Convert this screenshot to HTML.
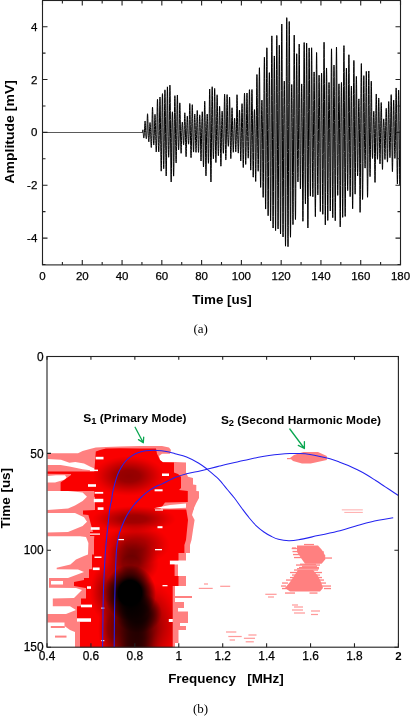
<!DOCTYPE html>
<html><head><meta charset="utf-8"><style>
html,body{margin:0;padding:0;background:#fff;}
body{width:410px;height:716px;overflow:hidden;}
svg{display:block;will-change:transform;}
.tl{font-family:"Liberation Sans",sans-serif;font-size:11.5px;fill:#000;stroke:#000;stroke-width:0.25px;}
.tl2{font-size:11.9px;}
.tlb{font-family:"Liberation Sans",sans-serif;font-size:11.5px;font-weight:bold;fill:#000;}
.ttl{font-family:"Liberation Sans",sans-serif;font-size:13.4px;font-weight:bold;fill:#000;}
.ann{font-family:"Liberation Sans",sans-serif;font-size:10.6px;font-weight:bold;fill:#000;}
.cap{font-family:"Liberation Serif",serif;font-size:13px;fill:#000;}
</style></head><body>
<svg width="410" height="716" viewBox="0 0 410 716">
<path d="M42.50,132.5 H142.24" stroke="#5a5a5a" stroke-width="1" fill="none"/>
<path d="M141.94,132.40 142.02,132.40 142.10,132.40 142.18,132.40 142.26,132.40 142.34,132.40 142.42,132.40 142.50,132.39 142.58,131.61 142.66,130.88 142.74,130.28 142.82,129.90 142.90,129.80 142.98,130.04 143.06,130.65 143.14,131.62 143.22,132.70 143.30,133.62 143.38,134.66 143.46,135.76 143.54,136.72 143.62,137.37 143.69,137.82 143.77,138.06 143.85,138.06 143.93,137.84 144.01,137.40 144.09,136.75 144.17,135.92 144.25,134.94 144.33,133.85 144.41,132.69 144.49,130.87 144.57,128.84 144.65,126.88 144.73,125.08 144.81,123.53 144.89,122.29 144.97,121.43 145.05,121.00 145.13,121.02 145.21,121.52 145.29,122.48 145.37,123.89 145.44,125.68 145.52,127.81 145.60,130.19 145.68,132.56 145.76,133.80 145.84,135.00 145.92,136.10 146.00,137.06 146.08,137.83 146.16,138.40 146.24,138.72 146.32,138.79 146.40,138.61 146.48,138.17 146.56,137.49 146.64,136.60 146.72,135.54 146.80,134.34 146.88,133.06 146.96,130.60 147.04,127.04 147.12,123.66 147.20,120.59 147.27,117.97 147.35,115.91 147.43,114.49 147.51,113.78 147.59,113.82 147.67,114.61 147.75,116.14 147.83,118.34 147.91,121.13 147.99,124.42 148.07,128.06 148.15,131.91 148.23,133.88 148.31,135.56 148.39,137.17 148.47,138.63 148.55,139.89 148.63,140.88 148.71,141.55 148.79,141.86 148.87,141.79 148.95,141.33 149.02,140.49 149.10,139.28 149.18,137.76 149.26,135.97 149.34,133.98 149.42,131.92 149.50,130.01 149.58,128.18 149.66,126.51 149.74,125.05 149.82,123.88 149.90,123.05 149.98,122.58 150.06,122.51 150.14,122.84 150.22,123.56 150.30,124.65 150.38,126.05 150.46,127.73 150.54,129.62 150.62,131.63 150.70,134.15 150.78,136.94 150.85,139.61 150.93,142.04 151.01,144.12 151.09,145.78 151.17,146.92 151.25,147.49 151.33,147.46 151.41,146.81 151.49,145.56 151.57,143.74 151.65,141.42 151.73,138.69 151.81,135.64 151.89,132.40 151.97,127.54 152.05,122.82 152.13,118.44 152.21,114.58 152.29,111.40 152.37,109.03 152.45,107.59 152.53,107.15 152.60,107.72 152.68,109.29 152.76,111.83 152.84,115.22 152.92,119.34 153.00,124.03 153.08,129.12 153.16,133.33 153.24,135.78 153.32,138.11 153.40,140.22 153.48,142.03 153.56,143.46 153.64,144.46 153.72,144.97 153.80,144.98 153.88,144.48 153.96,143.49 154.04,142.04 154.12,140.19 154.20,138.02 154.28,135.61 154.36,133.05 154.43,129.77 154.51,126.33 154.59,123.10 154.67,120.23 154.75,117.82 154.83,115.97 154.91,114.78 154.99,114.29 155.07,114.53 155.15,115.50 155.23,117.16 155.31,119.45 155.39,122.28 155.47,125.55 155.55,129.13 155.63,132.88 155.71,136.72 155.79,140.41 155.87,143.79 155.95,146.74 156.03,149.12 156.11,150.84 156.18,151.83 156.26,152.03 156.34,151.44 156.42,150.08 156.50,148.00 156.58,145.28 156.66,142.01 156.74,138.35 156.82,134.41 156.90,129.13 156.98,122.70 157.06,116.62 157.14,111.16 157.22,106.53 157.30,102.92 157.38,100.49 157.46,99.34 157.54,99.52 157.62,101.03 157.70,103.81 157.78,107.75 157.86,112.71 157.94,118.49 158.01,124.86 158.09,131.55 158.17,135.51 158.25,139.04 158.33,142.40 158.41,145.43 158.49,148.02 158.57,150.03 158.65,151.37 158.73,151.96 158.81,151.77 158.89,150.77 158.97,149.00 159.05,146.49 159.13,143.34 159.21,139.67 159.29,135.61 159.37,130.65 159.45,123.71 159.53,117.08 159.61,111.06 159.69,105.86 159.76,101.72 159.84,98.80 159.92,97.22 160.00,97.06 160.08,98.32 160.16,100.97 160.24,104.89 160.32,109.95 160.40,115.93 160.48,122.60 160.56,129.69 160.64,137.03 160.72,144.37 160.80,151.37 160.88,157.74 160.96,163.19 161.04,167.36 161.12,170.01 161.20,171.16 161.28,170.75 161.36,168.78 161.44,165.34 161.52,160.56 161.59,154.62 161.67,147.76 161.75,140.25 161.83,132.40 161.91,124.85 161.99,117.54 162.07,110.79 162.15,104.87 162.23,100.01 162.31,96.44 162.39,94.29 162.47,93.67 162.55,94.62 162.63,97.10 162.71,101.02 162.79,106.24 162.87,112.55 162.95,119.71 163.03,127.43 163.11,135.11 163.19,142.24 163.27,148.99 163.34,155.10 163.42,160.32 163.50,164.43 163.58,167.26 163.66,168.70 163.74,168.67 163.82,167.18 163.90,164.28 163.98,160.09 164.06,154.76 164.14,148.50 164.22,141.58 164.30,134.26 164.38,126.11 164.46,117.93 164.54,110.30 164.62,103.53 164.70,97.89 164.78,93.62 164.86,90.89 164.94,89.83 165.02,90.49 165.10,92.84 165.17,96.79 165.25,102.21 165.33,108.87 165.41,116.51 165.49,124.83 165.57,133.48 165.65,142.06 165.73,150.28 165.81,157.82 165.89,164.35 165.97,169.62 166.05,173.41 166.13,175.56 166.21,175.97 166.29,174.63 166.37,171.57 166.45,166.92 166.53,160.86 166.61,153.63 166.69,145.52 166.77,136.84 166.85,127.89 166.92,119.02 167.00,110.65 167.08,103.12 167.16,96.74 167.24,91.77 167.32,88.42 167.40,86.84 167.48,87.08 167.56,89.16 167.64,93.00 167.72,98.44 167.80,105.27 167.88,113.24 167.96,122.01 168.04,131.23 168.12,136.70 168.20,141.46 168.28,145.87 168.36,149.75 168.44,152.95 168.52,155.33 168.60,156.79 168.68,157.27 168.75,156.75 168.83,155.25 168.91,152.81 168.99,149.55 169.07,145.58 169.15,141.06 169.23,136.18 169.31,130.03 169.39,120.68 169.47,111.77 169.55,103.69 169.63,96.75 169.71,91.23 169.79,87.36 169.87,85.31 169.95,85.14 170.03,86.89 170.11,90.47 170.19,95.75 170.27,102.52 170.35,110.50 170.43,119.38 170.50,128.80 170.58,138.50 170.66,148.06 170.74,157.05 170.82,165.09 170.90,171.86 170.98,177.07 171.06,180.51 171.14,182.02 171.22,181.53 171.30,179.06 171.38,174.69 171.46,168.58 171.54,160.97 171.62,152.17 171.70,142.52 171.78,132.40 171.86,128.13 171.94,124.08 172.02,120.40 172.10,117.24 172.18,114.72 172.26,112.94 172.33,111.95 172.41,111.80 172.49,112.47 172.57,113.94 172.65,116.14 172.73,118.96 172.81,122.29 172.89,125.99 172.97,129.91 173.05,136.02 173.13,145.35 173.21,153.93 173.29,161.44 173.37,167.59 173.45,172.18 173.53,175.05 173.61,176.13 173.69,175.44 173.77,173.04 173.85,169.07 173.93,163.74 174.01,157.30 174.08,150.05 174.16,142.29 174.24,134.37 174.32,126.64 174.40,119.26 174.48,112.50 174.56,106.61 174.64,101.84 174.72,98.35 174.80,96.26 174.88,95.66 174.96,96.53 175.04,98.71 175.12,102.12 175.20,106.76 175.28,112.44 175.36,118.94 175.44,125.99 175.52,133.21 175.60,139.58 175.68,145.57 175.76,150.96 175.84,155.53 175.91,159.11 175.99,161.57 176.07,162.83 176.15,162.85 176.23,161.65 176.31,159.29 176.39,155.89 176.47,151.59 176.55,146.58 176.63,141.08 176.71,135.31 176.79,128.66 176.87,121.33 176.95,114.43 177.03,108.23 177.11,103.01 177.19,98.95 177.27,96.24 177.35,94.98 177.43,95.23 177.51,96.97 177.59,100.15 177.66,104.64 177.74,110.25 177.82,116.77 177.90,123.93 177.98,131.45 178.06,135.66 178.14,139.19 178.22,142.40 178.30,145.14 178.38,147.34 178.46,148.89 178.54,149.76 178.62,149.91 178.70,149.36 178.78,148.14 178.86,146.31 178.94,143.96 179.02,141.19 179.10,138.11 179.18,134.87 179.26,130.78 179.34,124.48 179.42,118.64 179.49,113.48 179.57,109.19 179.65,105.93 179.73,103.81 179.81,102.89 179.89,103.17 179.97,104.61 180.05,107.13 180.13,110.61 180.21,114.87 180.29,119.73 180.37,124.97 180.45,130.38 180.53,134.98 180.61,139.02 180.69,142.81 180.77,146.20 180.85,149.05 180.93,151.25 181.01,152.69 181.09,153.32 181.17,153.11 181.24,152.06 181.32,150.22 181.40,147.64 181.48,144.43 181.56,140.72 181.64,136.66 181.72,132.40 181.80,130.27 181.88,128.24 181.96,126.39 182.04,124.80 182.12,123.54 182.20,122.63 182.28,122.13 182.36,122.04 182.44,122.38 182.52,123.11 182.60,124.20 182.68,125.62 182.76,127.30 182.84,129.16 182.92,131.14 183.00,133.33 183.07,135.78 183.15,138.11 183.23,140.21 183.31,142.02 183.39,143.44 183.47,144.42 183.55,144.92 183.63,144.92 183.71,144.41 183.79,143.42 183.87,141.97 183.95,140.13 184.03,137.97 184.11,135.58 184.19,133.04 184.27,129.35 184.35,125.43 184.43,121.84 184.51,118.70 184.59,116.14 184.67,114.26 184.75,113.13 184.82,112.78 184.90,113.23 184.98,114.44 185.06,116.15 185.14,118.52 185.22,121.50 185.30,124.98 185.38,128.84 185.46,133.00 185.54,137.78 185.62,142.36 185.70,146.56 185.78,150.21 185.86,153.15 185.94,155.27 186.02,156.48 186.10,156.72 186.18,155.98 186.26,154.28 186.34,151.69 186.42,148.31 186.50,144.27 186.58,139.74 186.65,134.88 186.73,130.84 186.81,127.76 186.89,124.81 186.97,122.12 187.05,119.80 187.13,117.96 187.21,116.68 187.29,116.02 187.37,116.01 187.45,116.68 187.53,117.99 187.61,119.91 187.69,122.37 187.77,125.28 187.85,128.51 187.93,131.96 188.01,134.43 188.09,136.69 188.17,138.78 188.25,140.62 188.33,142.14 188.40,143.27 188.48,143.96 188.56,144.20 188.64,143.95 188.72,143.24 188.80,142.09 188.88,140.54 188.96,138.66 189.04,136.52 189.12,134.20 189.20,130.93 189.28,125.12 189.36,119.63 189.44,114.66 189.52,110.42 189.60,107.08 189.68,104.76 189.76,103.56 189.84,103.53 189.92,104.66 190.00,106.90 190.08,110.16 190.16,114.31 190.23,119.17 190.31,124.55 190.39,130.24 190.47,135.70 190.55,140.80 190.63,145.51 190.71,149.64 190.79,153.04 190.87,155.58 190.95,157.16 191.03,157.73 191.11,157.28 191.19,155.83 191.27,153.46 191.35,150.27 191.43,146.40 191.51,142.00 191.59,137.27 191.67,132.40 191.75,126.80 191.83,121.45 191.91,116.55 191.98,112.30 192.06,108.87 192.14,106.40 192.22,104.98 192.30,104.67 192.38,105.48 192.46,107.36 192.54,110.25 192.62,114.03 192.70,118.53 192.78,123.57 192.86,128.96 192.94,133.96 193.02,138.00 193.10,141.77 193.18,145.12 193.26,147.92 193.34,150.06 193.42,151.46 193.50,152.09 193.58,151.91 193.66,150.96 193.74,149.27 193.81,146.93 193.89,144.03 193.97,140.71 194.05,137.10 194.13,133.34 194.21,129.56 194.29,125.91 194.37,122.55 194.45,119.61 194.53,117.20 194.61,115.43 194.69,114.35 194.77,114.00 194.85,114.40 194.93,115.52 195.01,117.30 195.09,119.68 195.17,122.55 195.25,125.79 195.33,129.27 195.41,132.88 195.49,136.72 195.56,140.42 195.64,143.84 195.72,146.83 195.80,149.27 195.88,151.06 195.96,152.10 196.04,152.36 196.12,151.81 196.20,150.46 196.28,148.37 196.36,145.61 196.44,142.29 196.52,138.53 196.60,134.48 196.68,130.11 196.76,125.66 196.84,121.51 196.92,117.84 197.00,114.78 197.08,112.50 197.16,111.04 197.24,110.46 197.32,110.76 197.39,111.93 197.47,113.90 197.55,116.59 197.63,119.89 197.71,123.63 197.79,127.69 197.87,131.88 197.95,135.79 198.03,139.56 198.11,143.07 198.19,146.19 198.27,148.78 198.35,150.72 198.43,151.95 198.51,152.39 198.59,152.03 198.67,150.86 198.75,148.94 198.83,146.34 198.91,143.14 198.99,139.48 199.07,135.50 199.14,131.46 199.22,127.80 199.30,124.37 199.38,121.32 199.46,118.76 199.54,116.78 199.62,115.46 199.70,114.84 199.78,114.94 199.86,115.73 199.94,117.18 200.02,119.21 200.10,121.74 200.18,124.66 200.26,127.84 200.34,131.15 200.42,135.75 200.50,141.07 200.58,146.14 200.66,150.75 200.74,154.70 200.82,157.82 200.90,159.96 200.97,161.01 201.05,160.92 201.13,159.66 201.21,157.27 201.29,153.81 201.37,149.41 201.45,144.25 201.53,138.50 201.61,132.40 201.69,128.74 201.77,125.09 201.85,121.62 201.93,118.46 202.01,115.78 202.09,113.69 202.17,112.31 202.25,111.71 202.33,111.96 202.41,113.06 202.49,114.99 202.57,117.71 202.65,121.12 202.72,125.10 202.80,129.51 202.88,134.86 202.96,141.39 203.04,147.65 203.12,153.39 203.20,158.36 203.28,162.34 203.36,165.17 203.44,166.71 203.52,166.88 203.60,165.64 203.68,163.03 203.76,159.14 203.84,154.11 203.92,148.12 204.00,141.41 204.08,134.23 204.16,128.07 204.24,122.35 204.32,116.91 204.40,111.98 204.48,107.77 204.55,104.48 204.63,102.26 204.71,101.22 204.79,101.44 204.87,102.93 204.95,105.66 205.03,109.58 205.11,114.54 205.19,120.29 205.27,126.60 205.35,133.48 205.43,142.03 205.51,150.23 205.59,157.75 205.67,164.27 205.75,169.54 205.83,173.34 205.91,175.50 205.99,175.92 206.07,174.59 206.15,171.55 206.23,166.92 206.30,160.87 206.38,153.64 206.46,145.53 206.54,136.84 206.62,130.62 206.70,127.11 206.78,123.78 206.86,120.76 206.94,118.17 207.02,116.14 207.10,114.74 207.18,114.04 207.26,114.08 207.34,114.86 207.42,116.36 207.50,118.53 207.58,121.29 207.66,124.53 207.74,128.12 207.82,131.92 207.90,137.73 207.98,143.64 208.06,149.12 208.13,153.95 208.21,157.92 208.29,160.89 208.37,162.71 208.45,163.32 208.53,162.68 208.61,160.82 208.69,157.80 208.77,153.74 208.85,148.81 208.93,143.19 209.01,137.11 209.09,130.24 209.17,121.69 209.25,113.55 209.33,106.15 209.41,99.77 209.49,94.70 209.57,91.13 209.65,89.21 209.73,89.03 209.81,90.60 209.88,93.87 209.96,98.69 210.04,104.90 210.12,112.23 210.20,120.40 210.28,129.08 210.36,138.54 210.44,148.15 210.52,157.16 210.60,165.20 210.68,171.96 210.76,177.14 210.84,180.54 210.92,182.01 211.00,181.48 211.08,178.97 211.16,174.56 211.24,168.44 211.32,160.84 211.40,152.06 211.48,142.45 211.56,132.40 211.64,123.37 211.71,114.68 211.79,106.68 211.87,99.69 211.95,94.00 212.03,89.84 212.11,87.38 212.19,86.74 212.27,87.94 212.35,90.93 212.43,95.61 212.51,101.78 212.59,109.21 212.67,117.60 212.75,126.61 212.83,134.57 212.91,140.18 212.99,145.36 213.07,149.90 213.15,153.63 213.23,156.43 213.31,158.20 213.39,158.90 213.46,158.52 213.54,157.10 213.62,154.72 213.70,151.51 213.78,147.61 213.86,143.20 213.94,138.46 214.02,133.61 214.10,125.70 214.18,117.06 214.26,109.08 214.34,102.07 214.42,96.30 214.50,92.01 214.58,89.36 214.66,88.46 214.74,89.32 214.82,91.92 214.90,96.13 214.98,101.78 215.06,108.64 215.14,116.43 215.22,124.82 215.29,133.17 215.37,139.23 215.45,145.00 215.53,150.26 215.61,154.79 215.69,158.40 215.77,160.96 215.85,162.37 215.93,162.57 216.01,161.55 216.09,159.36 216.17,156.09 216.25,151.88 216.33,146.89 216.41,141.32 216.49,135.41 216.57,128.36 216.65,120.55 216.73,113.35 216.81,107.05 216.89,101.89 216.97,98.04 217.04,95.65 217.12,94.77 217.20,95.42 217.28,97.54 217.36,101.02 217.44,105.68 217.52,111.32 217.60,117.69 217.68,124.52 217.76,131.53 217.84,136.53 217.92,141.08 218.00,145.27 218.08,148.93 218.16,151.92 218.24,154.11 218.32,155.43 218.40,155.82 218.48,155.26 218.56,153.79 218.64,151.46 218.72,148.36 218.80,144.63 218.87,140.42 218.95,135.89 219.03,130.95 219.11,125.31 219.19,120.10 219.27,115.52 219.35,111.74 219.43,108.88 219.51,107.04 219.59,106.27 219.67,106.58 219.75,107.90 219.83,110.18 219.91,113.27 219.99,117.05 220.07,121.09 220.15,125.62 220.23,130.51 220.31,136.22 220.39,142.32 220.47,148.21 220.55,153.63 220.62,158.33 220.70,162.10 220.78,164.76 220.86,166.16 220.94,166.20 221.02,164.85 221.10,162.13 221.18,158.11 221.26,152.92 221.34,146.74 221.42,139.81 221.50,132.40 221.58,128.37 221.66,124.44 221.74,120.77 221.82,117.52 221.90,114.81 221.98,112.78 222.06,111.52 222.14,111.09 222.22,111.52 222.30,112.81 222.38,114.91 222.45,117.76 222.53,121.24 222.61,125.24 222.69,129.58 222.77,134.06 222.85,138.39 222.93,142.41 223.01,145.97 223.09,148.94 223.17,151.20 223.25,152.67 223.33,153.31 223.41,153.10 223.49,152.06 223.57,150.25 223.65,147.76 223.73,144.68 223.81,141.16 223.89,137.35 223.97,133.39 224.05,126.91 224.13,119.73 224.20,112.96 224.28,106.90 224.36,101.79 224.44,97.87 224.52,95.29 224.60,94.20 224.68,94.63 224.76,96.61 224.84,100.07 224.92,104.88 225.00,110.87 225.08,117.91 225.16,125.52 225.24,133.14 225.32,138.97 225.40,144.44 225.48,149.31 225.56,153.42 225.64,156.61 225.72,158.77 225.80,159.83 225.88,159.77 225.96,158.61 226.03,156.43 226.11,153.32 226.19,149.44 226.27,144.96 226.35,140.06 226.43,134.96 226.51,128.58 226.59,121.09 226.67,114.07 226.75,107.80 226.83,102.53 226.91,98.48 226.99,95.79 227.07,94.58 227.15,94.90 227.23,96.73 227.31,99.99 227.39,104.55 227.47,110.22 227.55,116.78 227.63,123.95 227.71,131.45 227.78,134.80 227.86,137.46 227.94,139.93 228.02,142.11 228.10,143.90 228.18,145.24 228.26,146.07 228.34,146.34 228.42,146.06 228.50,145.22 228.58,143.86 228.66,142.03 228.74,139.81 228.82,137.27 228.90,134.53 228.98,130.50 229.06,123.06 229.14,116.13 229.22,109.98 229.30,104.85 229.38,100.91 229.46,98.30 229.54,97.11 229.61,97.36 229.69,99.01 229.77,101.97 229.85,106.09 229.93,111.18 230.01,117.02 230.09,123.36 230.17,129.93 230.25,135.64 230.33,140.72 230.41,145.49 230.49,149.74 230.57,153.32 230.65,156.07 230.73,157.87 230.81,158.65 230.89,158.37 230.97,157.04 231.05,154.72 231.13,151.48 231.21,147.46 231.29,142.81 231.36,137.72 231.44,132.40 231.52,127.01 231.60,121.96 231.68,117.46 231.76,113.68 231.84,110.74 231.92,108.75 232.00,107.76 232.08,107.79 232.16,108.80 232.24,110.73 232.32,113.48 232.40,116.90 232.48,120.85 232.56,125.15 232.64,129.61 232.72,133.97 232.80,138.06 232.88,141.88 232.96,145.26 233.04,148.09 233.12,150.25 233.19,151.67 233.27,152.29 233.35,152.11 233.43,151.14 233.51,149.43 233.59,147.07 233.67,144.14 233.75,140.79 233.83,137.14 233.91,133.35 233.99,130.44 234.07,127.85 234.15,125.37 234.23,123.12 234.31,121.19 234.39,119.67 234.47,118.63 234.55,118.13 234.63,118.21 234.71,118.87 234.79,120.11 234.87,121.87 234.94,124.12 235.02,126.76 235.10,129.69 235.18,132.92 235.26,137.00 235.34,140.83 235.42,144.26 235.50,147.17 235.58,149.43 235.66,150.98 235.74,151.75 235.82,151.74 235.90,150.95 235.98,149.43 236.06,147.26 236.14,144.52 236.22,141.35 236.30,137.87 236.38,134.23 236.46,128.84 236.54,121.76 236.62,114.98 236.70,108.78 236.77,103.44 236.85,99.17 236.93,96.18 237.01,94.72 237.09,95.27 237.17,97.30 237.25,100.71 237.33,105.34 237.41,110.99 237.49,117.42 237.57,124.35 237.65,131.50 237.73,135.78 237.81,139.58 237.89,143.17 237.97,146.39 238.05,149.11 238.13,151.20 238.21,152.56 238.29,153.12 238.37,152.85 238.45,151.74 238.52,149.82 238.60,147.15 238.68,143.82 238.76,139.96 238.84,135.73 238.92,131.20 239.00,126.50 239.08,122.11 239.16,118.22 239.24,114.96 239.32,112.45 239.40,110.79 239.48,110.03 239.56,110.18 239.64,111.21 239.72,113.07 239.80,115.68 239.88,118.91 239.96,122.61 240.04,126.64 240.12,130.83 240.20,135.79 240.28,141.15 240.35,146.23 240.43,150.84 240.51,154.76 240.59,157.84 240.67,159.92 240.75,160.92 240.83,160.77 240.91,159.47 240.99,157.04 241.07,153.58 241.15,149.20 241.23,144.07 241.31,138.40 241.39,132.40 241.47,127.13 241.55,121.94 241.63,117.05 241.71,112.66 241.79,108.98 241.87,106.16 241.95,104.36 242.03,103.66 242.10,104.13 242.18,105.77 242.26,108.54 242.34,112.35 242.42,117.07 242.50,122.52 242.58,128.50 242.66,134.94 242.74,141.65 242.82,148.07 242.90,153.94 242.98,159.01 243.06,163.05 243.14,165.91 243.22,167.43 243.30,167.56 243.38,166.25 243.46,163.56 243.54,159.57 243.62,154.43 243.70,148.33 243.78,141.52 243.86,134.25 243.93,126.86 244.01,119.58 244.09,112.68 244.17,106.46 244.25,101.20 244.33,97.11 244.41,94.38 244.49,93.16 244.57,93.52 244.65,95.48 244.73,98.97 244.81,103.88 244.89,110.04 244.97,117.21 245.05,125.15 245.13,133.26 245.21,140.05 245.29,146.41 245.37,152.09 245.45,156.90 245.53,160.63 245.61,163.17 245.68,164.43 245.76,164.38 245.84,163.05 245.92,160.52 246.00,156.90 246.08,152.38 246.16,147.13 246.24,141.40 246.32,135.41 246.40,128.46 246.48,120.73 246.56,113.46 246.64,106.95 246.72,101.45 246.80,97.19 246.88,94.35 246.96,93.03 247.04,93.30 247.12,95.15 247.20,98.50 247.28,103.22 247.36,109.13 247.44,115.98 247.51,123.51 247.59,131.40 247.67,136.73 247.75,141.57 247.83,146.09 247.91,150.10 247.99,153.45 248.07,155.98 248.15,157.58 248.23,158.18 248.31,157.74 248.39,156.26 248.47,153.81 248.55,150.45 248.63,146.32 248.71,141.59 248.79,136.43 248.87,130.25 248.95,121.74 249.03,113.65 249.11,106.32 249.19,100.04 249.26,95.07 249.34,91.60 249.42,89.77 249.50,89.67 249.58,91.28 249.66,94.55 249.74,99.34 249.82,105.47 249.90,112.68 249.98,120.69 250.06,129.17 250.14,136.97 250.22,144.17 250.30,150.96 250.38,157.07 250.46,162.24 250.54,166.24 250.62,168.92 250.70,170.14 250.78,169.85 250.86,168.03 250.94,164.75 251.02,160.13 251.09,154.34 251.17,147.61 251.25,140.20 251.33,132.40 251.41,123.83 251.49,115.61 251.57,108.06 251.65,101.50 251.73,96.18 251.81,92.32 251.89,90.07 251.97,89.53 252.05,90.72 252.13,93.58 252.21,98.01 252.29,103.83 252.37,110.79 252.45,118.63 252.53,127.02 252.61,135.64 252.69,144.20 252.77,152.39 252.84,159.87 252.92,166.33 253.00,171.48 253.08,175.11 253.16,177.05 253.24,177.20 253.32,175.53 253.40,172.10 253.48,167.01 253.56,160.45 253.64,152.69 253.72,144.01 253.80,134.76 253.88,129.12 253.96,124.83 254.04,120.79 254.12,117.17 254.20,114.12 254.28,111.78 254.36,110.24 254.44,109.58 254.52,109.84 254.60,111.02 254.67,113.08 254.75,115.96 254.83,119.53 254.91,123.68 254.99,128.23 255.07,133.63 255.15,143.38 255.23,152.70 255.31,161.21 255.39,168.57 255.47,174.49 255.55,178.71 255.63,181.08 255.71,181.48 255.79,179.91 255.87,176.41 255.95,171.14 256.03,164.30 256.11,156.17 256.19,147.07 256.27,137.36 256.35,126.79 256.42,115.71 256.50,105.19 256.58,95.65 256.66,87.51 256.74,81.09 256.82,76.69 256.90,74.49 256.98,74.63 257.06,77.18 257.14,82.00 257.22,88.90 257.30,97.60 257.38,107.78 257.46,119.03 257.54,130.90 257.62,139.11 257.70,146.53 257.78,153.42 257.86,159.49 257.94,164.49 258.02,168.21 258.10,170.50 258.18,171.27 258.25,170.47 258.33,168.12 258.41,164.33 258.49,159.23 258.57,153.02 258.65,145.96 258.73,138.32 258.81,129.22 258.89,116.62 258.97,104.58 259.05,93.57 259.13,84.07 259.21,76.45 259.29,71.05 259.37,68.10 259.45,67.72 259.53,69.96 259.61,74.74 259.69,81.88 259.77,91.11 259.85,102.07 259.93,114.33 260.00,127.40 260.08,139.21 260.16,149.86 260.24,159.86 260.32,168.78 260.40,176.27 260.48,182.02 260.56,185.78 260.64,187.41 260.72,186.82 260.80,184.03 260.88,179.15 260.96,172.36 261.04,163.93 261.12,154.20 261.20,143.54 261.28,132.40 261.36,126.02 261.44,119.88 261.52,114.21 261.60,109.25 261.68,105.21 261.76,102.25 261.83,100.50 261.91,100.02 261.99,100.86 262.07,102.96 262.15,106.27 262.23,110.65 262.31,115.92 262.39,121.87 262.47,128.28 262.55,137.07 262.63,149.43 262.71,161.27 262.79,172.11 262.87,181.48 262.95,188.99 263.03,194.29 263.11,197.16 263.19,197.42 263.27,195.05 263.35,190.11 263.43,182.75 263.51,173.24 263.58,161.96 263.66,149.33 263.74,135.84 263.82,121.39 263.90,107.09 263.98,93.76 264.06,81.85 264.14,71.86 264.22,64.24 264.30,59.32 264.38,57.31 264.46,58.33 264.54,62.35 264.62,69.25 264.70,78.75 264.78,90.51 264.86,104.06 264.94,118.87 265.02,134.26 265.10,149.09 265.18,163.38 265.26,176.55 265.34,188.05 265.41,197.40 265.49,204.20 265.57,208.16 265.65,209.08 265.73,206.90 265.81,201.69 265.89,193.62 265.97,183.01 266.05,170.24 266.13,155.84 266.21,140.35 266.29,124.11 266.37,107.77 266.45,92.30 266.53,78.34 266.61,66.46 266.69,57.16 266.77,50.84 266.85,47.77 266.93,48.10 267.01,51.88 267.09,59.39 267.16,69.78 267.24,82.63 267.32,97.42 267.40,113.52 267.48,130.29 267.56,146.81 267.64,162.77 267.72,177.55 267.80,190.56 267.88,201.27 267.96,209.23 268.04,214.12 268.12,215.73 268.20,213.98 268.28,208.93 268.36,200.77 268.44,189.83 268.52,176.53 268.60,161.41 268.68,145.07 268.76,129.47 268.84,117.83 268.92,106.70 268.99,96.53 269.07,87.75 269.15,80.71 269.23,75.72 269.31,72.98 269.39,72.63 269.47,74.70 269.55,79.11 269.63,85.70 269.71,94.23 269.79,104.36 269.87,115.69 269.95,127.77 270.03,143.34 270.11,160.46 270.19,176.53 270.27,190.88 270.35,202.92 270.43,212.17 270.51,218.24 270.59,220.86 270.67,219.92 270.74,215.45 270.82,207.60 270.90,196.69 270.98,183.13 271.06,167.47 271.14,150.33 271.22,132.40 271.30,113.52 271.38,95.28 271.46,78.43 271.54,63.66 271.62,51.58 271.70,42.69 271.78,37.37 271.86,35.87 271.94,38.25 272.02,44.46 272.10,54.26 272.18,67.28 272.26,83.01 272.34,100.83 272.42,120.04 272.50,139.48 272.57,158.14 272.65,175.87 272.73,191.95 272.81,205.71 272.89,216.59 272.97,224.12 273.05,228.00 273.13,228.03 273.21,224.19 273.29,216.63 273.37,205.61 273.45,191.58 273.53,175.07 273.61,156.75 273.69,137.33 273.77,120.87 273.85,105.97 273.93,92.15 274.01,79.96 274.09,69.90 274.17,62.36 274.25,57.65 274.32,55.96 274.40,57.34 274.48,61.75 274.56,69.00 274.64,78.79 274.72,90.73 274.80,104.34 274.88,119.07 274.96,134.88 275.04,154.50 275.12,173.23 275.20,190.31 275.28,205.04 275.36,216.84 275.44,225.23 275.52,229.88 275.60,230.60 275.68,227.37 275.76,220.31 275.84,209.71 275.92,196.01 276.00,179.75 276.08,161.59 276.15,142.26 276.23,122.61 276.31,103.45 276.39,85.48 276.47,69.41 276.55,55.89 276.63,45.47 276.71,38.56 276.79,35.44 276.87,36.22 276.95,40.88 277.03,49.22 277.11,60.89 277.19,75.44 277.27,92.27 277.35,110.69 277.43,129.97 277.51,149.40 277.59,168.12 277.67,185.37 277.75,200.45 277.83,212.78 277.90,221.84 277.98,227.28 278.06,228.90 278.14,226.63 278.22,220.57 278.30,210.97 278.38,198.23 278.46,182.86 278.54,165.48 278.62,146.81 278.70,128.09 278.78,110.99 278.86,94.67 278.94,79.79 279.02,66.97 279.10,56.72 279.18,49.48 279.26,45.55 279.34,45.11 279.42,48.20 279.50,54.70 279.58,64.38 279.66,76.85 279.73,91.63 279.81,108.12 279.89,125.68 279.97,144.88 280.05,164.45 280.13,182.85 280.21,199.31 280.29,213.16 280.37,223.83 280.45,230.87 280.53,233.97 280.61,232.98 280.69,227.91 280.77,218.96 280.85,206.46 280.93,190.89 281.01,172.87 281.09,153.11 281.17,132.40 281.25,111.10 281.33,90.56 281.41,71.62 281.48,55.04 281.56,41.51 281.64,31.59 281.72,25.69 281.80,24.08 281.88,26.83 281.96,33.86 282.04,44.91 282.12,59.53 282.20,77.17 282.28,97.13 282.36,118.59 282.44,140.21 282.52,160.75 282.60,180.21 282.68,197.82 282.76,212.84 282.84,224.67 282.92,232.82 283.00,236.95 283.08,236.86 283.16,232.56 283.24,224.21 283.31,212.11 283.39,196.76 283.47,178.76 283.55,158.82 283.63,137.75 283.71,124.75 283.79,114.83 283.87,105.59 283.95,97.42 284.03,90.64 284.11,85.53 284.19,82.30 284.27,81.08 284.35,81.93 284.43,84.82 284.51,89.63 284.59,96.18 284.67,104.21 284.75,113.38 284.83,123.35 284.91,135.24 284.99,157.78 285.06,179.35 285.14,199.06 285.22,216.13 285.30,229.86 285.38,239.69 285.46,245.21 285.54,246.19 285.62,242.58 285.70,234.52 285.78,222.33 285.86,206.48 285.94,187.61 286.02,166.48 286.10,143.93 286.18,120.78 286.26,98.05 286.34,76.75 286.42,57.73 286.50,41.75 286.58,29.45 286.66,21.32 286.74,17.67 286.82,18.65 286.89,24.21 286.97,34.11 287.05,47.95 287.13,65.16 287.21,85.05 287.29,106.80 287.37,129.53 287.45,152.59 287.53,174.81 287.61,195.26 287.69,213.14 287.77,227.71 287.85,238.42 287.93,244.83 288.01,246.70 288.09,243.96 288.17,236.74 288.25,225.34 288.33,210.24 288.41,192.04 288.49,171.48 288.57,149.41 288.64,126.76 288.72,104.51 288.80,83.44 288.88,64.37 288.96,48.08 289.04,35.22 289.12,26.30 289.20,21.66 289.28,21.49 289.36,25.79 289.44,34.37 289.52,46.87 289.60,62.80 289.68,81.49 289.76,102.20 289.84,124.08 289.92,146.02 290.00,167.11 290.08,186.59 290.16,203.70 290.24,217.79 290.32,228.30 290.40,234.86 290.47,237.24 290.55,235.38 290.63,229.42 290.71,219.62 290.79,206.42 290.87,190.39 290.95,172.20 291.03,152.60 291.11,132.40 291.19,122.67 291.27,113.38 291.35,104.89 291.43,97.55 291.51,91.64 291.59,87.40 291.67,84.99 291.75,84.49 291.83,85.92 291.91,89.22 291.99,94.23 292.07,100.76 292.15,108.53 292.22,117.22 292.30,126.49 292.38,139.47 292.46,157.96 292.54,175.35 292.62,190.96 292.70,204.16 292.78,214.42 292.86,221.35 292.94,224.67 293.02,224.27 293.10,220.18 293.18,212.57 293.26,201.76 293.34,188.21 293.42,172.45 293.50,155.15 293.58,136.99 293.66,117.54 293.74,98.38 293.82,80.69 293.90,65.16 293.98,52.41 294.05,42.94 294.13,37.11 294.21,35.14 294.29,37.09 294.37,42.87 294.45,52.21 294.53,64.70 294.61,79.83 294.69,97.03 294.77,115.61 294.85,134.63 294.93,152.24 295.01,168.99 295.09,184.20 295.17,197.28 295.25,207.69 295.33,215.04 295.41,219.03 295.49,219.53 295.57,216.52 295.65,210.14 295.73,200.65 295.80,188.46 295.88,174.06 295.96,158.04 296.04,141.04 296.12,124.41 296.20,108.79 296.28,94.15 296.36,81.10 296.44,70.15 296.52,61.74 296.60,56.19 296.68,53.72 296.76,54.43 296.84,58.27 296.92,65.08 297.00,74.58 297.08,86.39 297.16,100.01 297.24,114.89 297.32,130.44 297.40,141.04 297.48,150.59 297.56,159.40 297.63,167.13 297.71,173.47 297.79,178.16 297.87,181.00 297.95,181.89 298.03,180.78 298.11,177.72 298.19,172.84 298.27,166.32 298.35,158.43 298.43,149.49 298.51,139.85 298.59,127.89 298.67,110.12 298.75,93.30 298.83,78.10 298.91,65.13 298.99,54.90 299.07,47.83 299.15,44.17 299.23,44.08 299.31,47.54 299.38,54.40 299.46,64.38 299.54,77.07 299.62,91.95 299.70,108.41 299.78,125.79 299.86,139.47 299.94,150.50 300.02,160.81 300.10,169.98 300.18,177.64 300.26,183.48 300.34,187.27 300.42,188.85 300.50,188.16 300.58,185.21 300.66,180.14 300.74,173.14 300.82,164.49 300.90,154.55 300.98,143.71 301.06,132.40 301.14,122.75 301.21,113.48 301.29,104.96 301.37,97.54 301.45,91.51 301.53,87.13 301.61,84.57 301.69,83.93 301.77,85.25 301.85,88.47 301.93,93.46 302.01,100.03 302.09,107.91 302.17,116.78 302.25,126.30 302.33,139.05 302.41,156.54 302.49,173.11 302.57,188.08 302.65,200.85 302.73,210.90 302.81,217.82 302.89,221.30 302.96,221.21 303.04,217.54 303.12,210.42 303.20,200.13 303.28,187.07 303.36,171.77 303.44,154.83 303.52,136.94 303.60,118.95 303.68,101.53 303.76,85.33 303.84,71.01 303.92,59.16 304.00,50.24 304.08,44.62 304.16,42.54 304.24,44.08 304.32,49.18 304.40,57.64 304.48,69.12 304.56,83.17 304.64,99.21 304.72,116.61 304.79,134.18 304.87,148.30 304.95,161.82 305.03,174.20 305.11,184.92 305.19,193.55 305.27,199.75 305.35,203.24 305.43,203.88 305.51,201.65 305.59,196.61 305.67,188.96 305.75,179.01 305.83,167.16 305.91,153.86 305.99,139.66 306.07,123.37 306.15,105.69 306.23,89.12 306.31,74.32 306.39,61.88 306.47,52.30 306.54,45.96 306.62,43.11 306.70,43.86 306.78,48.18 306.86,55.87 306.94,66.64 307.02,80.03 307.10,95.51 307.18,112.45 307.26,130.17 307.34,149.27 307.42,167.84 307.50,184.94 307.58,199.87 307.66,212.06 307.74,221.01 307.82,226.37 307.90,227.94 307.98,225.66 308.06,219.63 308.14,210.11 308.22,197.48 308.30,182.27 308.37,165.08 308.45,146.63 308.53,128.11 308.61,111.19 308.69,95.14 308.77,80.63 308.85,68.22 308.93,58.42 309.01,51.61 309.09,48.07 309.17,47.93 309.25,51.18 309.33,57.71 309.41,67.23 309.49,79.35 309.57,93.59 309.65,109.37 309.73,126.05 309.81,140.47 309.89,153.03 309.97,164.73 310.05,175.10 310.12,183.72 310.20,190.26 310.28,194.45 310.36,196.13 310.44,195.24 310.52,191.83 310.60,186.04 310.68,178.10 310.76,168.34 310.84,157.16 310.92,145.02 311.00,132.40 311.08,115.36 311.16,99.04 311.24,84.10 311.32,71.13 311.40,60.66 311.48,53.09 311.56,48.73 311.64,47.74 311.72,50.17 311.80,55.90 311.88,64.70 311.95,76.21 312.03,89.95 312.11,105.38 312.19,121.86 312.27,137.32 312.35,150.19 312.43,162.31 312.51,173.19 312.59,182.41 312.67,189.58 312.75,194.44 312.83,196.79 312.91,196.54 312.99,193.71 313.07,188.42 313.15,180.89 313.23,171.43 313.31,160.42 313.39,148.32 313.47,135.61 313.55,123.25 313.63,111.44 313.70,100.49 313.78,90.85 313.86,82.90 313.94,76.96 314.02,73.26 314.10,71.95 314.18,73.08 314.26,76.59 314.34,82.35 314.42,90.10 314.50,99.54 314.58,110.29 314.66,121.90 314.74,134.54 314.82,151.50 314.90,167.65 314.98,182.35 315.06,194.99 315.14,205.09 315.22,212.24 315.30,216.15 315.38,216.69 315.46,213.83 315.53,207.70 315.61,198.56 315.69,186.78 315.77,172.84 315.85,157.30 315.93,140.80 316.01,124.37 316.09,108.66 316.17,93.94 316.25,80.80 316.33,69.70 316.41,61.01 316.49,55.19 316.57,52.46 316.65,52.94 316.73,56.64 316.81,63.41 316.89,72.97 316.97,84.97 317.05,98.91 317.13,114.25 317.21,130.36 317.28,143.44 317.36,155.58 317.44,166.76 317.52,176.53 317.60,184.50 317.68,190.36 317.76,193.86 317.84,194.89 317.92,193.39 318.00,189.45 318.08,183.22 318.16,174.96 318.24,165.01 318.32,153.77 318.40,141.70 318.48,129.55 318.56,118.26 318.64,107.50 318.72,97.72 318.80,89.32 318.88,82.62 318.96,77.92 319.04,75.40 319.11,75.18 319.19,77.26 319.27,81.57 319.35,87.95 319.43,96.14 319.51,105.81 319.59,116.59 319.67,128.03 319.75,142.27 319.83,157.63 319.91,171.94 319.99,184.62 320.07,195.39 320.15,203.70 320.23,209.17 320.31,211.57 320.39,210.78 320.47,206.82 320.55,199.83 320.63,190.08 320.71,177.95 320.79,163.91 320.86,148.52 320.94,132.40 321.02,120.68 321.10,109.40 321.18,99.02 321.26,89.96 321.34,82.58 321.42,77.20 321.50,74.02 321.58,73.20 321.66,74.76 321.74,78.65 321.82,84.72 321.90,92.73 321.98,102.36 322.06,113.23 322.14,124.90 322.22,138.48 322.30,154.50 322.38,169.71 322.46,183.48 322.54,195.27 322.62,204.57 322.69,211.00 322.77,214.28 322.85,214.28 322.93,210.97 323.01,204.47 323.09,195.02 323.17,182.99 323.25,168.87 323.33,153.20 323.41,136.61 323.49,118.81 323.57,101.19 323.65,84.84 323.73,70.47 323.81,58.61 323.89,49.74 323.97,44.21 324.05,42.25 324.13,43.92 324.21,49.14 324.29,57.71 324.37,69.27 324.44,83.35 324.52,99.38 324.60,116.72 324.68,134.69 324.76,152.85 324.84,170.28 324.92,186.25 325.00,200.13 325.08,211.33 325.16,219.40 325.24,223.99 325.32,224.90 325.40,222.08 325.48,215.37 325.56,205.32 325.64,192.36 325.72,177.00 325.80,159.88 325.88,141.68 325.96,125.88 326.04,113.13 326.12,101.17 326.20,90.49 326.27,81.51 326.35,74.61 326.43,70.04 326.51,67.98 326.59,68.53 326.67,71.65 326.75,77.20 326.83,84.97 326.91,94.63 326.99,105.80 327.07,118.02 327.15,130.79 327.23,147.91 327.31,164.99 327.39,180.73 327.47,194.50 327.55,205.74 327.63,214.02 327.71,218.99 327.79,220.46 327.87,218.39 327.95,212.86 328.02,204.11 328.10,192.48 328.18,178.45 328.26,162.59 328.34,145.55 328.42,129.86 328.50,119.86 328.58,110.37 328.66,101.80 328.74,94.46 328.82,88.67 328.90,84.65 328.98,82.56 329.06,82.48 329.14,84.41 329.22,88.27 329.30,93.90 329.38,101.06 329.46,109.48 329.54,118.80 329.62,128.65 329.70,142.32 329.78,157.78 329.85,172.19 329.93,184.97 330.01,195.62 330.09,203.70 330.17,208.89 330.25,211.00 330.33,209.94 330.41,205.76 330.49,198.63 330.57,188.85 330.65,176.82 330.73,163.02 330.81,148.01 330.89,132.40 330.97,115.74 331.05,99.74 331.13,85.04 331.21,72.24 331.29,61.86 331.37,54.32 331.45,49.91 331.53,48.83 331.60,51.11 331.68,56.67 331.76,65.29 331.84,76.62 331.92,90.21 332.00,105.50 332.08,121.89 332.16,138.89 332.24,155.89 332.32,171.91 332.40,186.32 332.48,198.53 332.56,208.05 332.64,214.51 332.72,217.70 332.80,217.62 332.88,214.10 332.96,207.27 333.04,197.39 333.12,184.87 333.20,170.18 333.28,153.93 333.36,136.76 333.43,122.31 333.51,109.25 333.59,97.11 333.67,86.38 333.75,77.50 333.83,70.83 333.91,66.63 333.99,65.08 334.07,66.25 334.15,70.08 334.23,76.42 334.31,85.03 334.39,95.55 334.47,107.57 334.55,120.59 334.63,134.60 334.71,152.05 334.79,168.76 334.87,184.05 334.95,197.30 335.03,207.98 335.11,215.64 335.18,219.96 335.26,220.76 335.34,218.00 335.42,211.77 335.50,202.33 335.58,190.03 335.66,175.37 335.74,158.93 335.82,141.38 335.90,123.84 335.98,107.07 336.06,91.30 336.14,77.18 336.22,65.27 336.30,56.07 336.38,49.92 336.46,47.09 336.54,47.69 336.62,51.71 336.70,58.99 336.78,69.23 336.86,82.03 336.94,96.87 337.01,113.16 337.09,130.24 337.17,143.31 337.25,155.38 337.33,166.56 337.41,176.39 337.49,184.48 337.57,190.48 337.65,194.16 337.73,195.36 337.81,194.02 337.89,190.19 337.97,184.02 338.05,175.75 338.13,165.71 338.21,154.29 338.29,141.95 338.37,129.96 338.45,120.32 338.53,111.15 338.61,102.83 338.69,95.70 338.76,90.04 338.84,86.08 338.92,83.98 339.00,83.83 339.08,85.64 339.16,89.34 339.24,94.78 339.32,101.74 339.40,109.94 339.48,119.05 339.56,128.72 339.64,144.39 339.72,163.06 339.80,180.43 339.88,195.80 339.96,208.58 340.04,218.24 340.12,224.42 340.20,226.87 340.28,225.52 340.36,220.43 340.44,211.81 340.52,200.03 340.59,185.56 340.67,169.02 340.75,151.05 340.83,132.40 340.91,122.45 340.99,112.90 341.07,104.12 341.15,96.48 341.23,90.27 341.31,85.76 341.39,83.12 341.47,82.47 341.55,83.83 341.63,87.15 341.71,92.29 341.79,99.06 341.87,107.18 341.95,116.32 342.03,126.12 342.11,138.91 342.19,155.94 342.27,171.96 342.34,186.33 342.42,198.48 342.50,207.93 342.58,214.30 342.66,217.36 342.74,216.99 342.82,213.22 342.90,206.21 342.98,196.26 343.06,183.78 343.14,169.27 343.22,153.34 343.30,136.62 343.38,119.21 343.46,102.19 343.54,86.45 343.62,72.60 343.70,61.20 343.78,52.70 343.86,47.43 343.94,45.60 344.02,47.27 344.10,52.36 344.17,60.65 344.25,71.80 344.33,85.35 344.41,100.75 344.49,117.38 344.57,134.55 344.65,151.54 344.73,167.70 344.81,182.37 344.89,194.98 344.97,205.02 345.05,212.10 345.13,215.95 345.21,216.43 345.29,213.52 345.37,207.36 345.45,198.25 345.53,186.54 345.61,172.67 345.69,157.21 345.77,140.77 345.85,125.85 345.92,113.05 346.00,101.07 346.08,90.38 346.16,81.43 346.24,74.56 346.32,70.03 346.40,68.03 346.48,68.63 346.56,71.79 346.64,77.37 346.72,85.16 346.80,94.81 346.88,105.95 346.96,118.11 347.04,130.80 347.12,142.65 347.20,153.95 347.28,164.35 347.36,173.45 347.44,180.88 347.52,186.34 347.60,189.62 347.68,190.59 347.75,189.22 347.83,185.56 347.91,179.77 347.99,172.08 348.07,162.82 348.15,152.34 348.23,141.08 348.31,128.43 348.39,112.76 348.47,97.94 348.55,84.56 348.63,73.15 348.71,64.17 348.79,57.96 348.87,54.77 348.95,54.71 349.03,57.76 349.11,63.78 349.19,72.55 349.27,83.71 349.35,96.79 349.43,111.28 349.50,126.58 349.58,140.51 349.66,153.16 349.74,164.94 349.82,175.39 349.90,184.09 349.98,190.69 350.06,194.93 350.14,196.65 350.22,195.78 350.30,192.35 350.38,186.53 350.46,178.53 350.54,168.69 350.62,157.41 350.70,145.15 350.78,132.40 350.86,123.05 350.94,114.11 351.02,105.92 351.10,98.82 351.18,93.09 351.26,88.96 351.33,86.58 351.41,86.06 351.49,87.40 351.57,90.55 351.65,95.37 351.73,101.67 351.81,109.19 351.89,117.63 351.97,126.64 352.05,138.22 352.13,153.46 352.21,167.83 352.29,180.74 352.37,191.67 352.45,200.20 352.53,205.99 352.61,208.79 352.69,208.52 352.77,205.28 352.85,199.12 352.93,190.26 353.01,179.06 353.08,165.97 353.16,151.51 353.24,136.26 353.32,121.49 353.40,107.40 353.48,94.35 353.56,82.87 353.64,73.42 353.72,66.36 353.80,61.98 353.88,60.44 353.96,61.81 354.04,66.01 354.12,72.87 354.20,82.11 354.28,93.34 354.36,106.12 354.44,119.92 354.52,133.95 354.60,146.23 354.68,157.97 354.76,168.69 354.84,177.96 354.91,185.40 354.99,190.71 355.07,193.67 355.15,194.17 355.23,192.18 355.31,187.78 355.39,181.14 355.47,172.53 355.55,162.29 355.63,150.84 355.71,138.63 355.79,126.75 355.87,115.69 355.95,105.31 356.03,96.03 356.11,88.21 356.19,82.18 356.27,78.18 356.35,76.36 356.43,76.81 356.51,79.49 356.59,84.30 356.66,91.04 356.74,99.45 356.82,109.18 356.90,119.83 356.98,130.99 357.06,140.00 357.14,148.39 357.22,156.14 357.30,162.94 357.38,168.52 357.46,172.65 357.54,175.16 357.62,175.95 357.70,174.99 357.78,172.30 357.86,168.01 357.94,162.27 358.02,155.33 358.10,147.46 358.18,138.97 358.26,130.70 358.34,124.01 358.42,117.66 358.49,111.90 358.57,106.98 358.65,103.08 358.73,100.36 358.81,98.94 358.89,98.86 358.97,100.14 359.05,102.71 359.13,106.48 359.21,111.29 359.29,116.95 359.37,123.23 359.45,129.87 359.53,142.42 359.61,158.08 359.69,172.71 359.77,185.74 359.85,196.63 359.93,204.93 360.01,210.31 360.09,212.37 360.17,211.20 360.24,206.87 360.32,199.56 360.40,189.58 360.48,177.34 360.56,163.34 360.64,148.16 360.72,132.40 360.80,118.61 360.88,105.39 360.96,93.26 361.04,82.72 361.12,74.18 361.20,67.99 361.28,64.40 361.36,63.56 361.44,65.48 361.52,70.10 361.60,77.23 361.68,86.57 361.76,97.78 361.84,110.36 361.92,123.80 362.00,137.55 362.07,151.03 362.15,163.71 362.23,175.07 362.31,184.67 362.39,192.12 362.47,197.14 362.55,199.54 362.63,199.23 362.71,196.23 362.79,190.67 362.87,182.80 362.95,172.93 363.03,161.48 363.11,148.91 363.19,135.73 363.27,123.80 363.35,112.69 363.43,102.41 363.51,93.35 363.59,85.89 363.67,80.31 363.75,76.85 363.82,75.63 363.90,76.70 363.98,80.01 364.06,85.41 364.14,92.70 364.22,101.56 364.30,111.65 364.38,122.55 364.46,133.32 364.54,140.56 364.62,147.44 364.70,153.68 364.78,159.04 364.86,163.30 364.94,166.30 365.02,167.93 365.10,168.12 365.18,166.87 365.26,164.24 365.34,160.34 365.42,155.34 365.50,149.44 365.58,142.88 365.65,135.93 365.73,126.21 365.81,114.10 365.89,102.76 365.97,92.64 366.05,84.14 366.13,77.61 366.21,73.29 366.29,71.37 366.37,71.91 366.45,74.88 366.53,80.16 366.61,87.53 366.69,96.68 366.77,107.25 366.85,118.81 366.93,130.88 367.01,143.95 367.09,156.63 367.17,168.28 367.25,178.43 367.33,186.68 367.40,192.71 367.48,196.28 367.56,197.27 367.64,195.65 367.72,191.49 367.80,184.97 367.88,176.38 367.96,166.06 368.04,154.43 368.12,141.98 368.20,129.27 368.28,116.93 368.36,105.24 368.44,94.67 368.52,85.65 368.60,78.53 368.68,73.60 368.76,71.05 368.84,70.98 368.92,73.37 369.00,78.14 369.08,85.21 369.16,94.12 369.23,104.50 369.31,115.90 369.39,127.87 369.47,138.05 369.55,146.83 369.63,154.98 369.71,162.18 369.79,168.15 369.87,172.65 369.95,175.51 370.03,176.62 370.11,175.95 370.19,173.53 370.27,169.47 370.35,163.94 370.43,157.17 370.51,149.45 370.59,141.07 370.67,132.40 370.75,121.80 370.83,111.73 370.91,102.59 370.98,94.73 371.06,88.46 371.14,84.01 371.22,81.55 371.30,81.16 371.38,82.82 371.46,86.46 371.54,91.91 371.62,98.92 371.70,107.21 371.78,116.43 371.86,126.20 371.94,134.41 372.02,139.67 372.10,144.61 372.18,149.03 372.26,152.76 372.34,155.65 372.42,157.58 372.50,158.50 372.58,158.36 372.66,157.17 372.74,155.00 372.81,151.93 372.89,148.10 372.97,143.65 373.05,138.78 373.13,133.69 373.21,129.08 373.29,124.82 373.37,120.92 373.45,117.52 373.53,114.76 373.61,112.74 373.69,111.53 373.77,111.17 373.85,111.66 373.93,112.99 374.01,115.07 374.09,117.83 374.17,121.14 374.25,124.86 374.33,128.84 374.41,133.69 374.49,143.87 374.56,153.53 374.64,162.29 374.72,169.80 374.80,175.76 374.88,179.95 374.96,182.20 375.04,182.44 375.12,180.67 375.20,176.97 375.28,171.50 375.36,164.48 375.44,156.22 375.52,147.04 375.60,137.33 375.68,128.44 375.76,120.73 375.84,113.54 375.92,107.15 376.00,101.82 376.08,97.75 376.16,95.10 376.24,93.97 376.32,94.39 376.39,96.33 376.47,99.71 376.55,104.38 376.63,110.15 376.71,116.76 376.79,123.97 376.87,131.46 376.95,137.20 377.03,142.47 377.11,147.31 377.19,151.51 377.27,154.92 377.35,157.41 377.43,158.87 377.51,159.27 377.59,158.58 377.67,156.84 377.75,154.13 377.83,150.57 377.91,146.29 377.99,141.49 378.07,136.35 378.14,130.62 378.22,123.63 378.30,117.03 378.38,111.11 378.46,106.08 378.54,102.15 378.62,99.46 378.70,98.11 378.78,98.16 378.86,99.57 378.94,102.30 379.02,106.21 379.10,111.15 379.18,116.90 379.26,123.23 379.34,129.88 379.42,136.45 379.50,142.74 379.58,148.57 379.66,153.71 379.74,157.97 379.82,161.16 379.90,163.18 379.97,163.95 380.05,163.45 380.13,161.70 380.21,158.79 380.29,154.84 380.37,150.01 380.45,144.51 380.53,138.56 380.61,132.40 380.69,126.21 380.77,120.32 380.85,114.98 380.93,110.40 381.01,106.75 381.09,104.16 381.17,102.74 381.25,102.52 381.33,103.50 381.41,105.63 381.49,108.81 381.57,112.91 381.65,117.74 381.72,123.11 381.80,128.79 381.88,135.27 381.96,142.76 382.04,149.79 382.12,156.06 382.20,161.35 382.28,165.43 382.36,168.16 382.44,169.43 382.52,169.21 382.60,167.50 382.68,164.40 382.76,160.04 382.84,154.60 382.92,148.30 383.00,141.42 383.08,134.21 383.16,130.28 383.24,127.56 383.32,125.07 383.40,122.91 383.48,121.15 383.55,119.87 383.63,119.11 383.71,118.88 383.79,119.21 383.87,120.05 383.95,121.39 384.03,123.14 384.11,125.25 384.19,127.61 384.27,130.14 384.35,133.10 384.43,138.65 384.51,143.91 384.59,148.66 384.67,152.72 384.75,155.94 384.83,158.18 384.91,159.37 384.99,159.47 385.07,158.48 385.15,156.45 385.23,153.47 385.30,149.67 385.38,145.21 385.46,140.26 385.54,135.05 385.62,130.16 385.70,125.70 385.78,121.41 385.86,117.48 385.94,114.07 386.02,111.34 386.10,109.42 386.18,108.39 386.26,108.32 386.34,109.24 386.42,111.12 386.50,113.92 386.58,117.52 386.66,121.81 386.74,126.61 386.82,131.74 386.90,137.62 386.98,143.32 387.06,148.54 387.13,153.06 387.21,156.76 387.29,159.65 387.37,161.47 387.45,162.13 387.53,161.59 387.61,159.86 387.69,157.00 387.77,153.12 387.85,148.37 387.93,142.93 388.01,137.01 388.09,130.94 388.17,125.11 388.25,119.49 388.33,114.29 388.41,109.75 388.49,106.06 388.57,103.38 388.65,101.84 388.73,101.52 388.81,102.46 388.88,104.63 388.96,107.96 389.04,112.34 389.12,117.60 389.20,123.54 389.28,129.94 389.36,135.48 389.44,140.33 389.52,144.89 389.60,148.99 389.68,152.44 389.76,155.11 389.84,156.89 389.92,157.69 390.00,157.47 390.08,156.23 390.16,154.02 390.24,150.92 390.32,147.04 390.40,142.54 390.48,137.59 390.56,132.40 390.64,125.01 390.71,117.88 390.79,111.29 390.87,105.51 390.95,100.79 391.03,97.32 391.11,95.24 391.19,94.65 391.27,95.59 391.35,98.02 391.43,101.85 391.51,106.94 391.59,113.10 391.67,120.06 391.75,127.57 391.83,135.23 391.91,142.73 391.99,149.90 392.07,156.45 392.15,162.11 392.23,166.63 392.31,169.82 392.39,171.52 392.46,171.66 392.54,170.21 392.62,167.20 392.70,162.75 392.78,157.01 392.86,150.20 392.94,142.59 393.02,134.47 393.10,127.62 393.18,121.41 393.26,115.61 393.34,110.46 393.42,106.16 393.50,102.90 393.58,100.81 393.66,99.99 393.74,100.48 393.82,102.26 393.90,105.26 393.98,109.38 394.06,114.45 394.14,120.28 394.22,126.62 394.29,133.03 394.37,138.04 394.45,142.87 394.53,147.33 394.61,151.24 394.69,154.42 394.77,156.74 394.85,158.09 394.93,158.42 395.01,157.70 395.09,155.94 395.17,153.22 395.25,149.62 395.33,145.28 395.41,140.38 395.49,135.11 395.57,128.00 395.65,119.34 395.73,111.18 395.81,103.83 395.89,97.61 395.97,92.76 396.04,89.49 396.12,87.94 396.20,88.18 396.28,90.21 396.36,93.95 396.44,99.25 396.52,105.93 396.60,113.70 396.68,122.25 396.76,131.26 396.84,141.38 396.92,151.30 397.00,160.47 397.08,168.52 397.16,175.12 397.24,180.00 397.32,182.98 397.40,183.92 397.48,182.78 397.56,179.61 397.64,174.53 397.72,167.75 397.80,159.54 397.87,150.22 397.95,140.17 398.03,130.30 398.11,121.98 398.19,114.05 398.27,106.83 398.35,100.61 398.43,95.64 398.51,92.14 398.59,90.26 398.67,90.06 398.75,91.57 398.83,94.74 398.91,99.45 398.99,105.50 399.07,112.66 399.15,120.65 399.23,129.15 399.31,138.95 399.39,149.18 399.47,158.75 399.55,167.26 399.62,174.38 399.70,179.82 399.78,183.35 399.86,184.83 399.94,184.20 400.02,181.48 400.10,176.77 400.18,170.28 400.26,162.25 400.34,153.00 400.42,142.92 400.50,132.40" fill="none" stroke="#000" stroke-width="1.0" stroke-linejoin="round"/>
<rect x="42.50" y="0.50" width="358.00" height="264.40" fill="none" stroke="#222" stroke-width="1.1"/>
<path d="M42.50,264.90v-5.00M42.50,0.50v5.00M62.39,264.90v-3.00M62.39,0.50v3.00M82.28,264.90v-5.00M82.28,0.50v5.00M102.17,264.90v-3.00M102.17,0.50v3.00M122.06,264.90v-5.00M122.06,0.50v5.00M141.94,264.90v-3.00M141.94,0.50v3.00M161.83,264.90v-5.00M161.83,0.50v5.00M181.72,264.90v-3.00M181.72,0.50v3.00M201.61,264.90v-5.00M201.61,0.50v5.00M221.50,264.90v-3.00M221.50,0.50v3.00M241.39,264.90v-5.00M241.39,0.50v5.00M261.28,264.90v-3.00M261.28,0.50v3.00M281.17,264.90v-5.00M281.17,0.50v5.00M301.06,264.90v-3.00M301.06,0.50v3.00M320.94,264.90v-5.00M320.94,0.50v5.00M340.83,264.90v-3.00M340.83,0.50v3.00M360.72,264.90v-5.00M360.72,0.50v5.00M380.61,264.90v-3.00M380.61,0.50v3.00M400.50,264.90v-5.00M400.50,0.50v5.00M42.50,264.50h3.00M400.50,264.50h-3.00M42.50,238.08h5.00M400.50,238.08h-5.00M42.50,211.66h3.00M400.50,211.66h-3.00M42.50,185.24h5.00M400.50,185.24h-5.00M42.50,158.82h3.00M400.50,158.82h-3.00M42.50,132.40h5.00M400.50,132.40h-5.00M42.50,105.98h3.00M400.50,105.98h-3.00M42.50,79.56h5.00M400.50,79.56h-5.00M42.50,53.14h3.00M400.50,53.14h-3.00M42.50,26.72h5.00M400.50,26.72h-5.00M42.50,0.30h3.00M400.50,0.30h-3.00" stroke="#222" stroke-width="1.1" fill="none"/>
<text x="42.50" y="280" class="tl" text-anchor="middle">0</text>
<text x="82.28" y="280" class="tl" text-anchor="middle">20</text>
<text x="122.06" y="280" class="tl" text-anchor="middle">40</text>
<text x="161.83" y="280" class="tl" text-anchor="middle">60</text>
<text x="201.61" y="280" class="tl" text-anchor="middle">80</text>
<text x="241.39" y="280" class="tl" text-anchor="middle">100</text>
<text x="281.17" y="280" class="tl" text-anchor="middle">120</text>
<text x="320.94" y="280" class="tl" text-anchor="middle">140</text>
<text x="360.72" y="280" class="tl" text-anchor="middle">160</text>
<text x="400.50" y="280" class="tl" text-anchor="middle">180</text>
<text x="37.3" y="30.72" class="tl" text-anchor="end">4</text>
<text x="37.3" y="83.56" class="tl" text-anchor="end">2</text>
<text x="37.3" y="136.40" class="tl" text-anchor="end">0</text>
<text x="37.3" y="189.24" class="tl" text-anchor="end">-2</text>
<text x="37.3" y="242.08" class="tl" text-anchor="end">-4</text>
<text x="222" y="303.7" class="ttl" text-anchor="middle">Time [us]</text>
<text transform="translate(14,183.6) rotate(-90)" class="ttl" textLength="103.5" lengthAdjust="spacingAndGlyphs" font-size="13.8">Amplitude [mV]</text>
<text x="200.7" y="333.2" class="cap" text-anchor="middle">(a)</text>
<defs><clipPath id="rc"><polygon points="95.8,451.5 100.0,450.0 106.0,448.6 120.0,448.3 140.0,448.5 156.0,448.5 157.0,453.7 160.0,460.0 163.0,462.3 174.0,462.5 174.0,472.4 178.0,474.0 181.0,476.7 181.0,488.0 179.0,490.0 187.8,491.0 187.8,503.0 186.0,508.0 188.0,520.0 186.0,540.0 184.4,545.0 184.4,553.0 178.5,553.0 178.5,560.6 169.8,560.6 169.8,564.5 174.6,564.5 174.6,576.0 178.5,576.0 178.5,586.0 172.7,586.0 172.7,647.2 80.0,647.2 80.0,622.0 77.0,622.0 77.0,606.3 81.0,606.3 81.0,598.5 86.0,598.5 86.0,588.0 84.0,587.8 74.0,586.0 74.0,582.0 84.0,580.0 84.0,578.0 89.0,578.0 89.0,569.3 92.0,569.3 92.0,554.6 94.0,554.6 94.0,540.0 94.3,536.0 90.0,536.0 90.0,532.0 93.0,532.0 88.4,515.0 83.0,514.5 83.0,510.5 95.0,510.0 95.0,497.0 94.3,496.8 94.3,491.0 60.6,491.0 60.6,482.5 71.0,475.0 71.0,474.0 47.5,473.7 47.5,471.5 94.3,471.5"/></clipPath>
<filter id="b4" x="-50%" y="-50%" width="200%" height="200%"><feGaussianBlur stdDeviation="4"/></filter>
<filter id="b6" x="-50%" y="-50%" width="200%" height="200%"><feGaussianBlur stdDeviation="6"/></filter>
<filter id="b9" x="-50%" y="-50%" width="200%" height="200%"><feGaussianBlur stdDeviation="9"/></filter>
<radialGradient id="dk"><stop offset="0" stop-color="#000" stop-opacity="1"/><stop offset="0.3" stop-color="#000" stop-opacity="0.92"/><stop offset="0.6" stop-color="#000" stop-opacity="0.5"/><stop offset="0.85" stop-color="#000" stop-opacity="0.15"/><stop offset="1" stop-color="#000" stop-opacity="0"/></radialGradient>
<radialGradient id="dk2"><stop offset="0" stop-color="#000" stop-opacity="1"/><stop offset="0.45" stop-color="#000" stop-opacity="1"/><stop offset="0.75" stop-color="#000" stop-opacity="0.5"/><stop offset="1" stop-color="#000" stop-opacity="0"/></radialGradient>
</defs>
<polygon points="47.5,453.2 78.0,453.2 82.6,451.0 89.9,448.9 95.8,447.4 106.0,447.0 120.0,446.5 140.0,446.0 162.0,446.0 169.0,447.5 171.0,450.0 170.0,453.7 162.0,453.7 159.0,456.0 160.0,460.0 162.0,462.0 175.0,462.0 186.0,462.5 186.0,472.4 188.0,476.7 193.0,478.0 193.0,484.4 196.3,485.0 196.3,491.0 199.0,491.2 199.0,498.0 196.3,503.0 194.0,508.0 192.0,515.0 194.6,520.0 193.0,530.0 191.5,540.0 190.0,545.0 190.0,553.0 186.0,553.0 186.0,560.6 170.0,560.6 170.0,564.5 178.0,564.5 178.0,576.0 186.0,576.0 186.0,586.0 175.0,586.0 175.0,596.0 192.0,596.0 192.0,598.0 175.0,598.0 175.0,602.0 184.0,602.0 184.0,608.0 178.0,608.0 178.0,611.6 188.0,611.6 188.0,623.0 180.0,623.0 180.0,626.0 186.0,626.0 186.0,630.0 178.5,630.0 178.5,643.0 175.0,643.0 175.0,647.2 75.0,647.2 75.0,632.0 70.0,630.0 64.5,626.0 64.5,622.5 47.5,622.5 47.5,614.0 66.0,614.0 76.0,610.0 70.0,606.3 52.8,606.3 52.8,598.5 74.0,598.0 82.0,590.0 76.0,588.0 49.0,587.8 49.0,578.0 68.0,578.0 84.0,572.0 78.0,569.5 56.7,569.3 56.7,567.8 70.4,564.4 76.0,559.5 84.0,556.0 88.0,554.6 88.4,543.0 86.0,537.0 80.0,536.3 47.5,536.3 47.5,532.6 68.0,532.0 82.6,526.0 87.0,521.7 84.0,517.3 75.0,513.0 47.5,513.0 47.5,510.0 68.0,508.5 75.0,505.6 82.6,501.0 87.0,496.8 82.6,492.4 68.0,491.0 47.5,491.0 47.5,482.5 55.0,482.5 65.0,479.6 66.5,477.5 65.0,475.2 56.0,475.2 47.5,476.0 47.5,465.0 60.6,465.0 69.4,466.4 82.6,469.3 94.3,470.8 95.8,470.0 94.3,468.6 89.9,466.4 84.0,463.5 75.3,462.0 69.4,462.8 61.0,459.8 47.5,459.1" fill="#ff8080" />
<rect x="55" y="635.6" width="11.5" height="2" fill="#ff8080"/>
<rect x="50.8" y="626" width="14" height="2" fill="#ff8080"/>
<rect x="51" y="581" width="12" height="3.5" fill="#fff"/>
<polygon points="95.8,451.5 100.0,450.0 106.0,448.6 120.0,448.3 140.0,448.5 156.0,448.5 157.0,453.7 160.0,460.0 163.0,462.3 174.0,462.5 174.0,472.4 178.0,474.0 181.0,476.7 181.0,488.0 179.0,490.0 187.8,491.0 187.8,503.0 186.0,508.0 188.0,520.0 186.0,540.0 184.4,545.0 184.4,553.0 178.5,553.0 178.5,560.6 169.8,560.6 169.8,564.5 174.6,564.5 174.6,576.0 178.5,576.0 178.5,586.0 172.7,586.0 172.7,647.2 80.0,647.2 80.0,622.0 77.0,622.0 77.0,606.3 81.0,606.3 81.0,598.5 86.0,598.5 86.0,588.0 84.0,587.8 74.0,586.0 74.0,582.0 84.0,580.0 84.0,578.0 89.0,578.0 89.0,569.3 92.0,569.3 92.0,554.6 94.0,554.6 94.0,540.0 94.3,536.0 90.0,536.0 90.0,532.0 93.0,532.0 88.4,515.0 83.0,514.5 83.0,510.5 95.0,510.0 95.0,497.0 94.3,496.8 94.3,491.0 60.6,491.0 60.6,482.5 71.0,475.0 71.0,474.0 47.5,473.7 47.5,471.5 94.3,471.5" fill="#fa0000" />
<polygon points="165.0,502.5 188.0,502.0 194.0,503.0 194.0,509.5 160.0,509.5" fill="#ff8080" />
<polygon points="153.7,508.3 170.0,505.0 186.0,503.6 186.0,507.8 170.0,508.6" fill="#fff" />
<g clip-path="url(#rc)">
<ellipse cx="129" cy="476" rx="36" ry="20" fill="url(#dk)" opacity="0.42"/>
<ellipse cx="134" cy="519" rx="42" ry="13" fill="url(#dk)" opacity="0.38"/>
<ellipse cx="136" cy="545" rx="34" ry="20" fill="url(#dk)" opacity="0.35"/>
<ellipse cx="131" cy="563" rx="28" ry="24" fill="url(#dk)" opacity="0.5"/>
<ellipse cx="108" cy="592" rx="18" ry="30" fill="url(#dk)" opacity="0.35"/>
<ellipse cx="112" cy="628" rx="14" ry="34" fill="url(#dk)" opacity="0.45"/>
<ellipse cx="130" cy="593" rx="26" ry="28" fill="url(#dk2)" opacity="1.0"/>
<ellipse cx="138" cy="613" rx="24" ry="20" fill="url(#dk2)" opacity="0.6"/>
<rect x="118" y="603" width="32" height="70" fill="#000" opacity="0.78" filter="url(#b6)"/>
<ellipse cx="146" cy="625" rx="34" ry="44" fill="url(#dk)" opacity="0.4"/>
</g>
<rect x="95.7" y="456.8" width="7.8" height="2.6" fill="#fff"/>
<rect x="90.0" y="469.6" width="8.0" height="1.5" fill="#fff"/>
<rect x="88.0" y="484.2" width="8.0" height="2.6" fill="#fff"/>
<rect x="94.7" y="491.9" width="8.5" height="1.8" fill="#fff"/>
<rect x="93.8" y="498.8" width="9.5" height="3.4" fill="#fff"/>
<rect x="97.7" y="507.3" width="5.8" height="2.6" fill="#fff"/>
<rect x="90.8" y="527.2" width="8.8" height="2.6" fill="#fff"/>
<rect x="154.6" y="489.3" width="8.0" height="2.0" fill="#fff"/>
<rect x="162.0" y="473.5" width="7.0" height="2.5" fill="#fff"/>
<rect x="155.0" y="509.4" width="8.0" height="1.2" fill="#fff"/>
<rect x="157.5" y="526.2" width="5.0" height="2.0" fill="#fff"/>
<rect x="118.0" y="539.0" width="6.0" height="1.2" fill="#fff"/>
<rect x="90.0" y="533.5" width="10.0" height="1.2" fill="#fff"/>
<rect x="155.0" y="549.0" width="7.0" height="1.3" fill="#fff"/>
<rect x="162.5" y="585.0" width="5.0" height="1.3" fill="#fff"/>
<rect x="94.5" y="556.5" width="7.0" height="1.5" fill="#fff"/>
<rect x="92.8" y="567.5" width="6.8" height="2.6" fill="#fff"/>
<rect x="87.0" y="586.3" width="4.0" height="2.5" fill="#fff"/>
<rect x="81.0" y="604.6" width="11.0" height="2.7" fill="#fff"/>
<rect x="77.0" y="618.3" width="14.0" height="3.5" fill="#fff"/>
<rect x="101.3" y="607.5" width="3.0" height="1.2" fill="#fff"/>
<rect x="101.3" y="640.0" width="3.0" height="1.2" fill="#fff"/>
<rect x="168.8" y="619.0" width="4.0" height="3.0" fill="#fff"/>
<polygon points="303.4,452.0 318.0,452.0 326.8,456.0 326.8,460.0 310.7,463.4 302.0,463.4 293.0,461.0 290.0,458.0 294.0,455.0" fill="#ff8080" />
<rect x="287" y="458" width="5" height="1.2" fill="#ff8080"/>
<polygon points="297.0,545.5 318.0,545.5 322.0,550.0 325.2,555.5 325.2,559.5 321.6,563.8 305.0,563.8 301.0,558.0 297.0,552.0" fill="#ff8080" />
<polygon points="298.0,570.0 313.0,570.0 318.0,576.0 321.0,582.0 323.0,588.0 320.0,591.5 290.0,591.5 285.0,588.0 290.0,582.0 294.0,576.0" fill="#ff8080" />
<rect x="291.7" y="547.9" width="6.0" height="1.3" fill="#ff8080"/>
<rect x="292.5" y="550.9" width="5.0" height="1.3" fill="#ff8080"/>
<rect x="293.0" y="553.9" width="6.0" height="1.3" fill="#ff8080"/>
<rect x="294.0" y="556.9" width="8.0" height="1.3" fill="#ff8080"/>
<rect x="318.0" y="551.4" width="6.0" height="1.3" fill="#ff8080"/>
<rect x="322.0" y="557.4" width="10.0" height="1.3" fill="#ff8080"/>
<rect x="296.0" y="564.4" width="24.0" height="1.3" fill="#ff8080"/>
<rect x="299.0" y="566.9" width="20.0" height="1.3" fill="#ff8080"/>
<rect x="294.0" y="569.4" width="24.0" height="1.3" fill="#ff8080"/>
<rect x="300.0" y="563.6" width="16.0" height="1.3" fill="#ff8080"/>
<rect x="302.0" y="565.6" width="15.0" height="1.3" fill="#ff8080"/>
<rect x="297.0" y="568.1" width="22.0" height="1.3" fill="#ff8080"/>
<rect x="306.0" y="561.9" width="14.0" height="1.3" fill="#ff8080"/>
<rect x="292.0" y="547.4" width="4.0" height="1.3" fill="#ff8080"/>
<rect x="304.0" y="543.9" width="10.0" height="1.3" fill="#ff8080"/>
<rect x="290.0" y="571.9" width="10.0" height="1.3" fill="#ff8080"/>
<rect x="310.0" y="571.9" width="12.0" height="1.3" fill="#ff8080"/>
<rect x="292.0" y="574.4" width="6.0" height="1.3" fill="#ff8080"/>
<rect x="314.0" y="574.4" width="6.0" height="1.3" fill="#ff8080"/>
<rect x="290.0" y="576.9" width="6.0" height="1.3" fill="#ff8080"/>
<rect x="316.0" y="576.9" width="6.0" height="1.3" fill="#ff8080"/>
<rect x="286.0" y="579.4" width="6.0" height="1.3" fill="#ff8080"/>
<rect x="318.0" y="579.4" width="6.0" height="1.3" fill="#ff8080"/>
<rect x="282.0" y="582.4" width="6.0" height="1.3" fill="#ff8080"/>
<rect x="320.0" y="582.4" width="6.0" height="1.3" fill="#ff8080"/>
<rect x="281.0" y="585.4" width="5.0" height="1.3" fill="#ff8080"/>
<rect x="322.0" y="585.4" width="9.0" height="1.3" fill="#ff8080"/>
<rect x="282.0" y="587.9" width="6.0" height="1.3" fill="#ff8080"/>
<rect x="324.0" y="587.9" width="7.0" height="1.3" fill="#ff8080"/>
<rect x="285.0" y="592.4" width="10.0" height="1.3" fill="#ff8080"/>
<rect x="309.5" y="592.4" width="8.0" height="1.3" fill="#ff8080"/>
<rect x="198.8" y="587.8" width="13.9" height="1.2" fill="#ff8080" opacity="0.8"/>
<rect x="204.0" y="583.4" width="4.0" height="1.2" fill="#ff8080" opacity="0.8"/>
<rect x="220.2" y="585.7" width="10.0" height="1.2" fill="#ff8080" opacity="0.8"/>
<rect x="265.3" y="593.7" width="11.3" height="1.2" fill="#ff8080" opacity="0.8"/>
<rect x="268.0" y="596.4" width="6.0" height="1.2" fill="#ff8080" opacity="0.8"/>
<rect x="226.0" y="631.4" width="10.3" height="1.2" fill="#ff8080" opacity="0.8"/>
<rect x="228.3" y="635.9" width="13.4" height="1.2" fill="#ff8080" opacity="0.8"/>
<rect x="229.6" y="639.4" width="5.4" height="1.2" fill="#ff8080" opacity="0.8"/>
<rect x="248.4" y="634.4" width="8.1" height="1.2" fill="#ff8080" opacity="0.8"/>
<rect x="243.9" y="637.7" width="11.1" height="1.2" fill="#ff8080" opacity="0.8"/>
<rect x="245.7" y="641.2" width="8.1" height="1.2" fill="#ff8080" opacity="0.8"/>
<rect x="292.0" y="604.4" width="6.0" height="1.2" fill="#ff8080" opacity="0.8"/>
<rect x="294.0" y="606.4" width="9.0" height="1.2" fill="#ff8080" opacity="0.8"/>
<rect x="292.0" y="609.4" width="11.0" height="1.2" fill="#ff8080" opacity="0.8"/>
<rect x="294.0" y="612.4" width="11.0" height="1.2" fill="#ff8080" opacity="0.8"/>
<rect x="311.0" y="610.4" width="9.0" height="1.2" fill="#ff8080" opacity="0.8"/>
<rect x="311.0" y="613.9" width="7.0" height="1.2" fill="#ff8080" opacity="0.8"/>
<rect x="341.8" y="509.3" width="21" height="1.1" fill="#ff8080" opacity="0.6"/>
<rect x="344.3" y="511.9" width="18.5" height="1.1" fill="#ff8080" opacity="0.6"/>
<path d="M102.60,647.20 C102.67,641.67 102.87,623.13 103.00,614.00 C103.13,604.87 103.18,599.60 103.40,592.40 C103.62,585.20 103.93,578.03 104.30,570.80 C104.67,563.57 105.03,556.22 105.60,549.00 C106.17,541.78 106.98,534.33 107.70,527.50 C108.42,520.67 109.25,512.57 109.90,508.00 C110.55,503.43 111.15,502.65 111.60,500.10 C112.05,497.55 112.12,495.23 112.60,492.70 C113.08,490.17 113.70,487.83 114.50,484.90 C115.30,481.97 116.27,478.03 117.40,475.10 C118.53,472.17 119.83,469.73 121.30,467.30 C122.77,464.87 124.40,462.45 126.20,460.50 C128.00,458.55 130.15,456.90 132.10,455.60 C134.05,454.30 135.63,453.52 137.90,452.70 C140.17,451.88 143.10,451.10 145.70,450.70 C148.30,450.30 150.90,450.30 153.50,450.30 C156.10,450.30 158.70,450.40 161.30,450.70 C163.90,451.00 166.82,451.60 169.10,452.10 C171.38,452.60 172.08,452.88 175.00,453.70 C177.92,454.52 182.63,455.42 186.60,457.00 C190.57,458.58 195.35,461.15 198.80,463.20 C202.25,465.25 204.45,467.07 207.30,469.30 C210.15,471.53 213.78,474.72 215.90,476.60 C218.02,478.48 218.10,478.45 220.00,480.60 C221.90,482.75 224.87,486.55 227.30,489.50 C229.73,492.45 232.15,495.13 234.60,498.30 C237.05,501.47 239.55,505.22 242.00,508.50 C244.45,511.78 246.87,515.07 249.30,518.00 C251.73,520.93 254.17,523.77 256.60,526.10 C259.03,528.43 261.47,530.30 263.90,532.00 C266.33,533.70 268.77,535.08 271.20,536.30 C273.63,537.52 275.57,538.57 278.50,539.30 C281.43,540.03 285.47,540.62 288.80,540.70 C292.13,540.78 293.63,540.65 298.50,539.80 C303.37,538.95 311.08,537.10 318.00,535.60 C324.92,534.10 333.68,532.40 340.00,530.80 C346.32,529.20 350.62,527.52 355.90,526.00 C361.18,524.48 365.48,523.07 371.70,521.70 C377.92,520.33 389.62,518.45 393.20,517.80" fill="none" stroke="#2323f0" stroke-width="1.05"/>
<path d="M114.20,647.20 C114.25,641.67 114.38,623.13 114.50,614.00 C114.62,604.87 114.73,599.60 114.90,592.40 C115.07,585.20 115.25,577.65 115.50,570.80 C115.75,563.95 115.97,556.72 116.40,551.30 C116.83,545.88 117.27,542.27 118.10,538.30 C118.93,534.33 119.95,531.28 121.40,527.50 C122.85,523.72 124.82,519.22 126.80,515.60 C128.78,511.98 131.12,508.65 133.30,505.80 C135.48,502.95 137.50,500.85 139.90,498.50 C142.30,496.15 145.10,493.65 147.70,491.70 C150.30,489.75 153.08,488.10 155.50,486.80 C157.92,485.50 159.05,485.40 162.20,483.90 C165.35,482.40 170.33,479.50 174.40,477.80 C178.47,476.10 182.33,474.83 186.60,473.70 C190.87,472.57 196.10,471.87 200.00,471.00 C203.90,470.13 206.75,469.32 210.00,468.50 C213.25,467.68 216.33,466.88 219.50,466.10 C222.67,465.32 225.75,464.55 229.00,463.80 C232.25,463.05 235.75,462.33 239.00,461.60 C242.25,460.87 245.25,460.12 248.50,459.40 C251.75,458.68 255.08,457.95 258.50,457.30 C261.92,456.65 265.42,456.02 269.00,455.50 C272.58,454.98 276.50,454.52 280.00,454.20 C283.50,453.88 286.67,453.70 290.00,453.60 C293.33,453.50 296.67,453.45 300.00,453.60 C303.33,453.75 306.67,454.03 310.00,454.50 C313.33,454.97 316.67,455.68 320.00,456.40 C323.33,457.12 326.82,457.88 330.00,458.80 C333.18,459.72 336.05,460.78 339.10,461.90 C342.15,463.02 345.25,464.18 348.30,465.50 C351.35,466.82 354.35,468.27 357.40,469.80 C360.45,471.33 363.55,472.92 366.60,474.70 C369.65,476.48 372.65,478.52 375.70,480.50 C378.75,482.48 382.25,484.85 384.90,486.60 C387.55,488.35 389.35,489.52 391.60,491.00 C393.85,492.48 397.27,494.75 398.40,495.50" fill="none" stroke="#2323f0" stroke-width="1.05"/>
<rect x="47.00" y="356.50" width="351.40" height="290.70" fill="none" stroke="#222" stroke-width="1.1"/>
<path d="M47.00,647.20v-4M47.00,356.50v3.2M90.93,647.20v-4M90.93,356.50v3.2M134.85,647.20v-4M134.85,356.50v3.2M178.77,647.20v-4M178.77,356.50v3.2M222.70,647.20v-4M222.70,356.50v3.2M266.62,647.20v-4M266.62,356.50v3.2M310.55,647.20v-4M310.55,356.50v3.2M354.48,647.20v-4M354.48,356.50v3.2M398.40,647.20v-4M398.40,356.50v3.2M47.00,356.50h4M398.40,356.50h-4M47.00,453.40h4M398.40,453.40h-4M47.00,550.30h4M398.40,550.30h-4M47.00,647.20h4M398.40,647.20h-4" stroke="#222" stroke-width="1.1" fill="none"/>
<text x="47.00" y="659.8" class="tl tl2" text-anchor="middle">0.4</text>
<text x="90.93" y="659.8" class="tl tl2" text-anchor="middle">0.6</text>
<text x="134.85" y="659.8" class="tl tl2" text-anchor="middle">0.8</text>
<text x="178.77" y="659.8" class="tl tl2" text-anchor="middle">1</text>
<text x="222.70" y="659.8" class="tl tl2" text-anchor="middle">1.2</text>
<text x="266.62" y="659.8" class="tl tl2" text-anchor="middle">1.4</text>
<text x="310.55" y="659.8" class="tl tl2" text-anchor="middle">1.6</text>
<text x="354.48" y="659.8" class="tl tl2" text-anchor="middle">1.8</text>
<text x="398.40" y="659.8" class="tlb" text-anchor="middle">2</text>
<text x="43.6" y="360.60" class="tl tl2" text-anchor="end">0</text>
<text x="43.6" y="457.50" class="tl tl2" text-anchor="end">50</text>
<text x="43.6" y="554.40" class="tl tl2" text-anchor="end">100</text>
<text x="43.6" y="651.30" class="tl tl2" text-anchor="end">150</text>
<text x="168.2" y="682.6" class="ttl">Frequency</text>
<text x="247.2" y="682.6" class="ttl">[MHz]</text>
<text transform="translate(10,528.4) rotate(-90)" class="ttl" font-size="13">Time</text>
<text transform="translate(10,468) rotate(-90)" class="ttl" font-size="13" text-anchor="end">[us]</text>
<text x="200.5" y="712.7" class="cap" text-anchor="middle">(b)</text>
<text x="83.2" y="421.9" class="ann" textLength="103.4" lengthAdjust="spacingAndGlyphs">S<tspan dy="2.2" font-size="8.3">1</tspan><tspan dy="-2.2"> (Primary Mode)</tspan></text>
<text x="220.9" y="423.7" class="ann" textLength="160.2" lengthAdjust="spacingAndGlyphs">S<tspan dy="2.2" font-size="8.3">2</tspan><tspan dy="-2.2"> (Second Harmonic Mode)</tspan></text>
<path d="M135.1,427.3 L143.3,442.7 M138.5,439.6 L143.3,442.7 L143.7,437.2" stroke="#0aa650" stroke-width="1.3" fill="none" stroke-linecap="round" stroke-linejoin="round"/>
<path d="M289.8,429 L304.4,448.5 M298.3,445.4 L304.4,448.5 L304.4,441.7" stroke="#0aa650" stroke-width="1.3" fill="none" stroke-linecap="round" stroke-linejoin="round"/>
</svg>
</body></html>
